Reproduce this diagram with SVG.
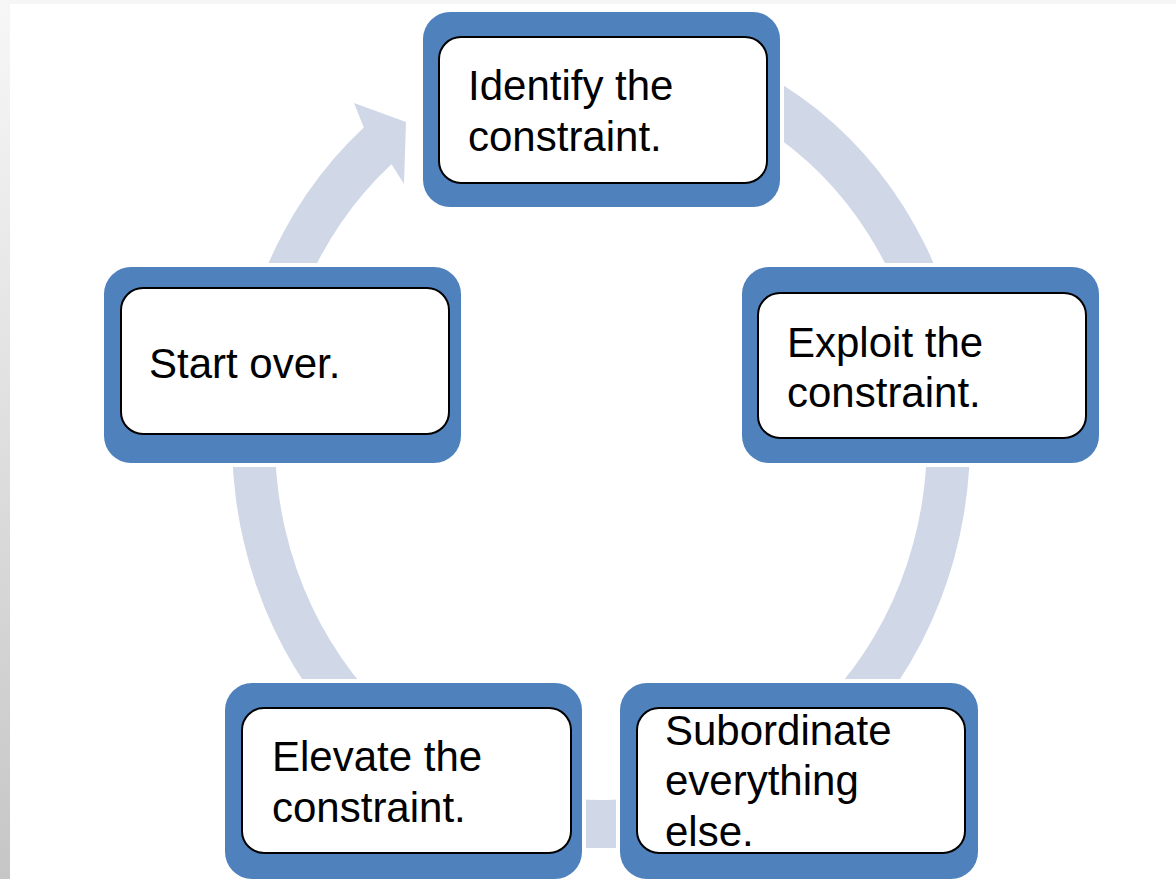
<svg xmlns="http://www.w3.org/2000/svg" width="1176" height="879" viewBox="0 0 1176 879">
  <defs>
    <linearGradient id="edgeShade" x1="0" y1="0" x2="0" y2="1">
      <stop offset="0" stop-color="#f7f7f7"/>
      <stop offset="1" stop-color="#c6c6c6"/>
    </linearGradient>
    <style>
      .frame { fill: #4f81bd; stroke: #ffffff; stroke-width: 8; paint-order: stroke; }
      .card  { fill: #ffffff; stroke: #000000; stroke-width: 2; }
      .label { font-family: "Liberation Sans", Arial, sans-serif; font-size: 42px; fill: #000000; }
      .ring  { fill: #d0d8e8; stroke: none; }
    </style>
  </defs>

  <!-- page background -->
  <rect x="0" y="0" width="1176" height="879" fill="#ffffff"/>
  <rect x="0" y="0" width="1176" height="4" fill="#f6f6f6"/>
  <rect x="0" y="0" width="10" height="879" fill="url(#edgeShade)"/>

  <!-- continuous cycle arrow behind the steps -->
  <g id="connectors">
    <path class="ring" d="M 665.1 38.2 A 369 408 0 1 1 363.8 127.5 L 354 103 L 406 122 L 404 184 L 391.5 164.2 A 326 360 0 1 0 657.6 85.5 Z"/>
    <rect class="ring" x="587" y="800" width="29" height="48"/>
  </g>

  <g id="identify">
    <rect class="frame" x="423" y="12" width="357" height="195" rx="27"/>
    <rect class="card" x="439" y="37" width="328" height="146" rx="22"/>
    <text class="label" x="468" y="100">Identify the</text>
    <text class="label" x="468" y="151">constraint.</text>
  </g>

  <g id="exploit">
    <rect class="frame" x="742" y="267" width="357" height="196" rx="27"/>
    <rect class="card" x="758" y="293" width="328" height="145" rx="22"/>
    <text class="label" x="787" y="357">Exploit the</text>
    <text class="label" x="787" y="407">constraint.</text>
  </g>

  <g id="subordinate">
    <rect class="frame" x="620" y="683" width="358" height="196" rx="27"/>
    <rect class="card" x="637" y="708" width="328" height="145" rx="22"/>
    <text class="label" x="665" y="745">Subordinate</text>
    <text class="label" x="665" y="795">everything</text>
    <text class="label" x="665" y="846">else.</text>
  </g>

  <g id="elevate">
    <rect class="frame" x="225" y="683" width="357" height="196" rx="27"/>
    <rect class="card" x="242" y="708" width="329" height="145" rx="22"/>
    <text class="label" x="272" y="771">Elevate the</text>
    <text class="label" x="272" y="822">constraint.</text>
  </g>

  <g id="start-over">
    <rect class="frame" x="104" y="267" width="357" height="196" rx="27"/>
    <rect class="card" x="121" y="288" width="328" height="146" rx="22"/>
    <text class="label" x="149" y="378">Start over.</text>
  </g>
</svg>
